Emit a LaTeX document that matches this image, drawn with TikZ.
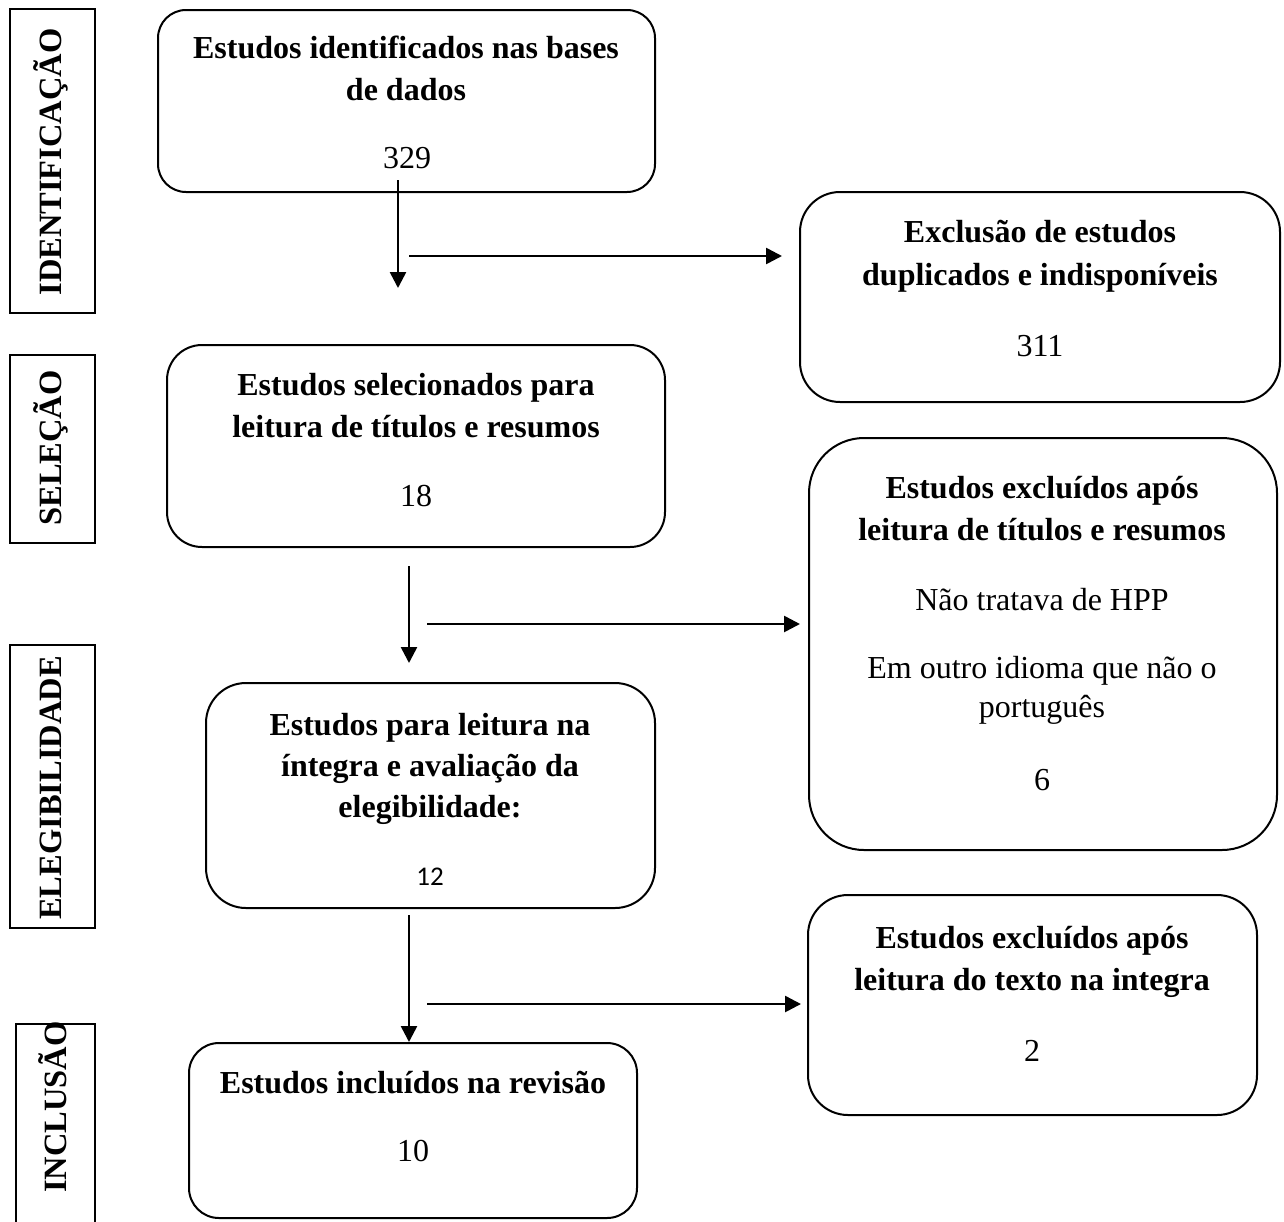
\documentclass[tikz,border=0pt]{standalone}
\usepackage{fontspec}
\setmainfont{Liberation Serif}
\newfontfamily\calib{Carlito}
\usetikzlibrary{arrows.meta}
\begin{document}
\begin{tikzpicture}[x=1pt,y=-1pt,
  box/.style={draw,line width=2pt,rounded corners=#1,inner sep=0pt},
  box/.default=30pt,
  lbl/.style={draw,line width=2pt,inner sep=0pt,minimum width=85pt},
  ttl/.style={font=\fontsize{32}{41}\selectfont\bfseries,anchor=base,inner sep=0pt},
  txt/.style={font=\fontsize{32}{41}\selectfont,anchor=base,inner sep=0pt},
  vtx/.style={font=\fontsize{32.5}{41}\selectfont\bfseries,rotate=90,inner sep=0pt},
  arr/.style={line width=2.6pt,-{Triangle[length=16pt,width=16pt]}}]
\clip (0,0) rectangle (1284,1221);
\fill[white] (0,0) rectangle (1284,1221);

% stage labels
\node[lbl,minimum height=304pt] (L1) at (52.5,161) {};
\node[vtx] (L1t) at (51,162) {IDENTIFICAÇÃO};
\node[lbl,minimum height=188pt] (L2) at (52.5,449) {};
\node[vtx] (L2t) at (51,448) {SELEÇÃO};
\node[lbl,minimum height=283pt] (L3) at (52.5,786.5) {};
\node[vtx] (L3t) at (51,788) {ELEGIBILIDADE};
\node[lbl,minimum width=79pt,minimum height=216pt] (L4) at (55.5,1132) {};
\node[vtx] (L4t) at (53,1107) {INCLUSÃO};

% boxes
\node[box=28pt,minimum width=497pt,minimum height=182pt] (b1) at (406.5,101) {};
\node[box=40pt,minimum width=480pt,minimum height=210pt] (b2) at (1040,297) {};
\node[box=35pt,minimum width=498pt,minimum height=202pt] (b3) at (416,446) {};
\node[box=55pt,minimum width=468pt,minimum height=412pt] (b4) at (1043,644) {};
\node[box=40pt,minimum width=449pt,minimum height=225pt] (b5) at (430.5,795.5) {};
\node[box=40pt,minimum width=449pt,minimum height=220pt] (b6) at (1032.5,1005) {};
\node[box=30pt,minimum width=448pt,minimum height=175pt] (b7) at (413,1130.5) {};

% texts
\node[ttl] (t1a) at (406,58) {Estudos identificados nas bases};
\node[ttl] (t1b) at (406,100) {de dados};
\node[txt] (t1c) at (407,168) {329};

\node[ttl] (t2a) at (1040,242) {Exclusão de estudos};
\node[ttl] (t2b) at (1040,285) {duplicados e indisponíveis};
\node[txt] (t2c) at (1040,356) {311};

\node[ttl] (t3a) at (416,395) {Estudos selecionados para};
\node[ttl] (t3b) at (416,437) {leitura de títulos e resumos};
\node[txt] (t3c) at (416,506) {18};

\node[ttl] (t4a) at (1042,498) {Estudos excluídos após};
\node[ttl] (t4b) at (1042,540) {leitura de títulos e resumos};
\node[txt] (t4c) at (1042,610) {Não tratava de HPP};
\node[txt] (t4d) at (1042,678) {Em outro idioma que não o};
\node[txt] (t4e) at (1042,717) {português};
\node[txt] (t4f) at (1042,790) {6};

\node[ttl] (t5a) at (430,735) {Estudos para leitura na};
\node[ttl] (t5b) at (430,776) {íntegra e avaliação da};
\node[ttl] (t5c) at (430,817) {elegibilidade:};
\node[anchor=base,inner sep=0pt,font=\calib\fontsize{27}{33}\selectfont] (t5d) at (430,885) {12};

\node[ttl] (t6a) at (1032,948) {Estudos excluídos após};
\node[ttl] (t6b) at (1032,990) {leitura do texto na integra};
\node[txt] (t6c) at (1032,1061) {2};

\node[ttl] (t7a) at (413,1093) {Estudos incluídos na revisão};
\node[txt] (t7b) at (413,1161) {10};

% connectors
\coordinate (v1s) at (398,180);
\coordinate (v1e) at (398,288);
\coordinate (h1s) at (409,256);
\coordinate (h1e) at (782,256);
\coordinate (v2s) at (409,566);
\coordinate (v2e) at (409,663);
\coordinate (h2s) at (427,624);
\coordinate (h2e) at (800,624);
\coordinate (v3s) at (409,915);
\coordinate (h3s) at (427,1004);
\coordinate (h3e) at (801,1004);

\draw[arr] (v1s) -- (v1e);
\draw[arr] (h1s) -- (h1e);
\draw[arr] (v2s) -- (v2e);
\draw[arr] (h2s) -- (h2e);
\draw[arr] (v3s) -- (v3s |- b7.north);
\draw[arr] (h3s) -- (h3e);
\end{tikzpicture}
\end{document}
